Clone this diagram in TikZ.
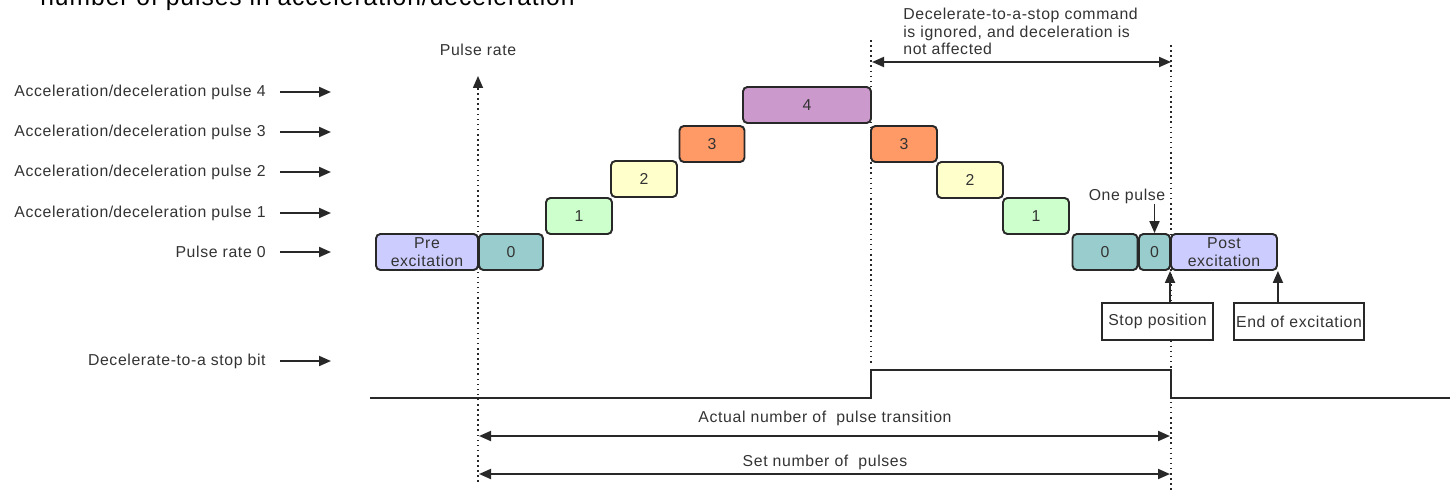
\documentclass[tikz,border=0pt]{standalone}
\usepackage{fontspec}
\setmainfont[LetterSpace=4]{Liberation Sans}
\usetikzlibrary{arrows.meta,positioning,calc}
\definecolor{txtgray}{RGB}{51,51,51}
\definecolor{lineg}{RGB}{40,40,40}
\definecolor{boxlav}{RGB}{204,204,255}
\definecolor{boxteal}{RGB}{153,204,204}
\definecolor{boxgreen}{RGB}{204,255,204}
\definecolor{boxyellow}{RGB}{255,255,204}
\definecolor{boxorange}{RGB}{255,153,102}
\definecolor{boxpurple}{RGB}{204,153,204}

\begin{document}
\begin{tikzpicture}[
  x=0.02cm, y=-0.02cm,
  every node/.style={text=txtgray, font=\fontsize{9}{10}\selectfont},
  pbox/.style={draw=lineg, line width=1.1pt, rounded corners=2.5pt, minimum height=0.72cm, inner sep=0pt, align=center},
  lbl/.style={inner sep=0pt},
  tagbox/.style={draw=lineg, line width=0.9pt, fill=white, minimum height=0.74cm, inner sep=0pt},
  arr/.style={-{Triangle[length=2.4mm,width=2mm]}, line width=1.1pt, draw=lineg},
  dbl/.style={{Triangle[length=2.4mm,width=2mm]}-{Triangle[length=2.4mm,width=2mm]}, line width=1.1pt, draw=lineg},
  vdot/.style={dotted, line width=0.9pt, draw=lineg}
]
\useasboundingbox (0,0) rectangle (1450,490);

% cut-off title
\node[anchor=base west, inner sep=0pt, text=black, font=\fontsize{14}{16}\selectfont] (title) at (40,6) {number of pulses in acceleration/deceleration};

% row labels on the left
\foreach \yy/\txt/\nm in {92/Acceleration\slash deceleration pulse 4/l4,
                          132/Acceleration\slash deceleration pulse 3/l3,
                          172/Acceleration\slash deceleration pulse 2/l2,
                          213/Acceleration\slash deceleration pulse 1/l1,
                          252/Pulse rate 0/l0,
                          361/Decelerate-to-a stop bit/lbit} {
  \node[lbl, anchor=east] (\nm) at (266,\yy) {\txt};
  \coordinate (\nm-a) at (280,\yy);
  \coordinate (\nm-b) at (331,\yy);
  \draw[arr] (\nm-a) -- (\nm-b);
}

% dotted markers
\coordinate (v1top) at (478,76);
\coordinate (v1bot) at (478,482);
\coordinate (v2top) at (871,40);
\coordinate (v2bot) at (871,366);
\coordinate (v3top) at (1171,45);
\coordinate (v3bot) at (1171,490);
\draw[vdot] (v2top) -- (v2bot);
\draw[vdot] (v3top) -- (v3bot);
\draw[vdot, -{Triangle[length=2.4mm,width=2mm]}] (v1bot) -- (v1top);
\node[lbl] (prate) at (478,50) {Pulse rate};

% pulse blocks
\node[pbox, fill=boxlav, minimum width=2.04cm] (pre) at (427,252) {Pre\\excitation};
\node[pbox, fill=boxteal, minimum width=1.28cm] (z0) at (511,252) {0};
\node[pbox, fill=boxgreen, minimum width=1.32cm] (a1) at (579,216) {1};
\node[pbox, fill=boxyellow, minimum width=1.32cm] (a2) at (644,179) {2};
\node[pbox, fill=boxorange, minimum width=1.30cm] (a3) at (712,144) {3};
\node[pbox, fill=boxpurple, minimum width=2.56cm] (a4) at (807,105) {4};
\node[pbox, fill=boxorange, minimum width=1.32cm] (d3) at (904,144) {3};
\node[pbox, fill=boxyellow, minimum width=1.32cm] (d2) at (970,180) {2};
\node[pbox, fill=boxgreen, minimum width=1.32cm] (d1) at (1036,216) {1};
\node[pbox, fill=boxteal, minimum width=1.30cm] (z1) at (1105,252) {0};
\node[pbox, fill=boxteal, minimum width=0.62cm] (z2) at (1154.5,252) {0};
\node[pbox, fill=boxlav, minimum width=2.12cm] (post) at (1224,252) {Post\\excitation};

% ignored command span
\node[lbl, anchor=north west, align=left] (ignore) at (903,8) {Decelerate-to-a-stop command\\is ignored, and deceleration is\\not affected};
\coordinate (ignL) at (872,62);
\coordinate (ignR) at (1171,62);
\draw[dbl] (ignL) -- (ignR);

% stop markers
\node[lbl] (onep) at (1127,196) {One pulse};
\draw[arr] (onep.south -| z2) -- (z2.north);
\node[tagbox, minimum width=2.22cm] (stop) at (1157.5,321.5) {Stop position};
\node[tagbox, minimum width=2.6cm] (endex) at (1299,321.5) {End of excitation};
\draw[arr] (stop.north -| post.south west) -- (post.south west);
\draw[arr] (endex.north -| post.south east) -- (post.south east);

% decelerate-to-a-stop bit
\draw[line width=1.2pt, draw=lineg] (370,398) -- (871,398) -- (871,370) -- (1171,370) -- (1171,398) -- (1450,398);

% pulse counts
\node[lbl] (actual) at (825,418) {Actual number of \ pulse transition};
\coordinate (actL) at (479,436);
\coordinate (actR) at (1170,436);
\draw[dbl] (actL) -- (actR);
\node[lbl] (setn) at (825,462) {Set number of \ pulses};
\coordinate (setL) at (479,474);
\coordinate (setR) at (1170,474);
\draw[dbl] (setL) -- (setR);
\end{tikzpicture}
\end{document}
